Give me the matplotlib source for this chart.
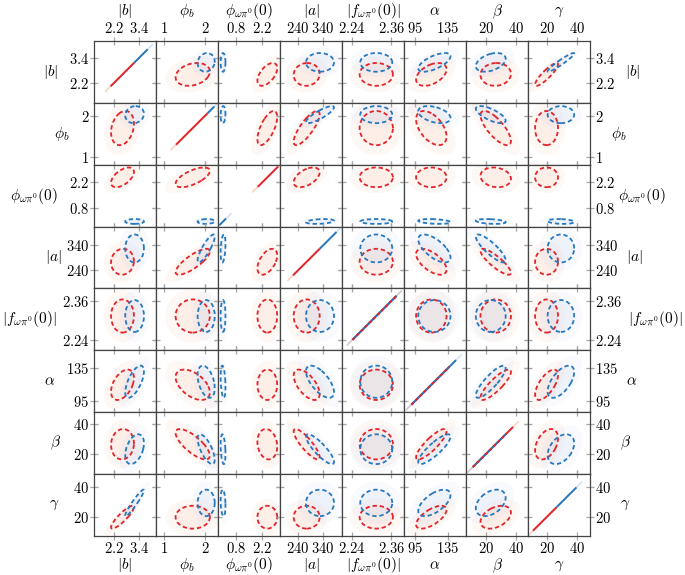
import numpy as np
import matplotlib
matplotlib.use("Agg")
import matplotlib.pyplot as plt
from matplotlib.patches import Ellipse

#===============================================================================
# parameters
names = [r"$|b|$", r"$\phi_b$", r"$\phi_{\omega\pi^0}(0)$", r"$|a|$",
         r"$|f_{\omega\pi^0}(0)|$", r"$\alpha$", r"$\beta$", r"$\gamma$"]
ticks = [[2.2, 3.4], [1, 2], [0.8, 2.2], [240, 340],
         [2.24, 2.36], [95, 135], [20, 40], [20, 40]]
lims = [(1.24, 4.22), (0.80, 2.32), (-0.17, 3.15), (168, 416),
        (2.209, 2.399), (82.2, 157.1), (6.6, 47.7), (7.3, 48.4)]

red_mean = [2.61, 1.70, 2.47, 274.6, 2.314, 115.2, 26.3, 19.6]
red_half = [0.55, 0.42, 0.53, 52.0, 0.051, 18.4, 10.1, 7.6]
blue_mean = [3.19, 2.03, 0.10, 328.0, 2.314, 118.9, 23.0, 29.1]
blue_half = [0.45, 0.21, 0.13, 56.0, 0.049, 19.5, 9.9, 8.8]

# correlations, upper triangle (i, j) -> rho
red_rho = {
    (0, 1): 0.25, (0, 2): 0.55, (0, 3): 0.05, (0, 4): 0.0, (0, 5): 0.45, (0, 6): 0.05, (0, 7): 0.88,
    (1, 2): 0.65, (1, 3): 0.8, (1, 4): 0.0, (1, 5): -0.5, (1, 6): -0.75, (1, 7): 0.0,
    (2, 3): 0.5, (2, 4): 0.0, (2, 5): 0.0, (2, 6): -0.15, (2, 7): 0.0,
    (3, 4): 0.0, (3, 5): -0.6, (3, 6): -0.85, (3, 7): 0.0,
    (4, 5): 0.0, (4, 6): 0.0, (4, 7): 0.0,
    (5, 6): 0.85, (5, 7): 0.65,
    (6, 7): 0.4,
}
blue_rho = {
    (0, 1): 0.1, (0, 2): 0.0, (0, 3): 0.0, (0, 4): 0.0, (0, 5): 0.65, (0, 6): 0.4, (0, 7): 0.95,
    (1, 2): 0.1, (1, 3): 0.85, (1, 4): 0.0, (1, 5): -0.4, (1, 6): -0.7, (1, 7): 0.0,
    (2, 3): 0.3, (2, 4): 0.0, (2, 5): -0.3, (2, 6): -0.3, (2, 7): -0.2,
    (3, 4): 0.0, (3, 5): -0.65, (3, 6): -0.85, (3, 7): 0.0,
    (4, 5): 0.0, (4, 6): 0.0, (4, 7): 0.0,
    (5, 6): 0.85, (5, 7): 0.6,
    (6, 7): 0.4,
}

# extent of the sample lines on the diagonal
diag_red = [(2.04, 3.18), (1.29, 2.06), (1.96, 3.05), (220, 327),
            (2.241, 2.376), (91.2, 136.9), (11.1, 37.8), (10.6, 26.2)]
diag_blue = [(3.18, 3.82), (2.06, 2.23), (-0.10, 0.26), (327, 394),
             (2.241, 2.376), (91.2, 145.1), (11.1, 33.3), (26.2, 39.4)]

RED = "#e3242b"
BLUE = "#2878bd"
RED_LIGHT = "#f6a98c"
BLUE_LIGHT = "#a9c4ee"

# label positions (pixels)
left_x = [51, 62, 34, 53, 29, 50, 55, 54]
right_x = [633, 619, 642, 634, 655, 632, 625, 625]

plt.rcParams["mathtext.fontset"] = "cm"
plt.rcParams["font.family"] = "serif"

#===============================================================================
def get_rho(table, i, j):
    return table[(min(i, j), max(i, j))]

def draw_ellipse(ax, mx, my, hx, hy, rho, scale = 1.0, **kw):
    cov = np.array([[hx * hx, rho * hx * hy], [rho * hx * hy, hy * hy]])
    vals, vecs = np.linalg.eigh(cov)
    angle = np.degrees(np.arctan2(vecs[1, 1], vecs[0, 1]))
    e = Ellipse((mx, my), 2 * scale * np.sqrt(vals[1]), 2 * scale * np.sqrt(vals[0]),
                angle = angle, **kw)
    ax.add_patch(e)

def draw_diag(ax, k):
    lo, hi = lims[k]
    pad = 0.08 * (hi - lo)
    rl, rh = diag_red[k]
    bl, bh = diag_blue[k]
    ax.plot([rl - pad, rh + pad], [rl - pad, rh + pad], color = RED_LIGHT, lw = 1.2, alpha = 0.5, zorder = 1)
    ax.plot([bl - pad, bh + pad], [bl - pad, bh + pad], color = BLUE_LIGHT, lw = 1.2, alpha = 0.5, zorder = 1)
    ax.plot([rl, rh], [rl, rh], color = RED, lw = 1.4, zorder = 2, solid_capstyle = "butt")
    ax.plot([bl, bh], [bl, bh], color = BLUE, lw = 1.4, zorder = 3, solid_capstyle = "butt")
    ol, oh = max(rl, bl), min(rh, bh)
    if oh > ol:
        ax.plot([ol, oh], [ol, oh], color = RED, lw = 1.4, zorder = 4,
                linestyle = (0, (1.5, 1.5)), solid_capstyle = "butt")

#===============================================================================
fig, axes = plt.subplots(8, 8, figsize = (6.85, 5.75), dpi = 100)
fig.subplots_adjust(left = 94 / 685, right = 590 / 685, top = 1 - 41 / 575,
                    bottom = 1 - 535.7 / 575, wspace = 0, hspace = 0)

n = len(names)
for i in range(n):
    for j in range(n):
        ax = axes[i, j]
        if i == j:
            draw_diag(ax, i)
        else:
            for mean, half, rho_t, light, col, z in [
                    (red_mean, red_half, red_rho, RED_LIGHT, RED, 3),
                    (blue_mean, blue_half, blue_rho, BLUE_LIGHT, BLUE, 4)]:
                rho = get_rho(rho_t, i, j)
                args = (mean[j], mean[i], half[j], half[i], rho)
                draw_ellipse(ax, *args, scale = 1.6, facecolor = light, edgecolor = "none", alpha = 0.08, zorder = 1)
                draw_ellipse(ax, *args, scale = 1.0, facecolor = light, edgecolor = "none", alpha = 0.12, zorder = 1)
                draw_ellipse(ax, *args, scale = 1.0, facecolor = "none", edgecolor = col,
                             lw = 1.3, linestyle = (0, (2.4, 1.6)), zorder = z)

        ax.set_xlim(lims[j])
        ax.set_ylim(lims[i])
        ax.set_xticks(ticks[j], labels = [f"${t:g}$" for t in ticks[j]])
        ax.set_yticks(ticks[i], labels = [f"${t:g}$" for t in ticks[i]])
        ax.tick_params(direction = "inout", length = 6, width = 0.9, color = "#a5a5a5",
                       top = True, bottom = True, left = True, right = True,
                       labeltop = (i == 0), labelbottom = (i == n - 1),
                       labelleft = (j == 0), labelright = (j == n - 1),
                       labelsize = 10.5, pad = 0.5)
        for sp in ax.spines.values():
            sp.set_color("#444444")
            sp.set_linewidth(0.9)

        if i == 0:
            ax.text(0.5, 1.48, names[j], transform = ax.transAxes, ha = "center", va = "center", fontsize = 11)
        if i == n - 1:
            ax.text(0.5, -0.48, names[j], transform = ax.transAxes, ha = "center", va = "center", fontsize = 11)
        if j == 0:
            ax.text((left_x[i] - 94) / 62, 0.5, names[i], transform = ax.transAxes, ha = "center", va = "center", fontsize = 11)
        if j == n - 1:
            ax.text(1 + (right_x[i] - 590) / 62, 0.5, names[i], transform = ax.transAxes, ha = "center", va = "center", fontsize = 11)

fig.savefig("out.png", dpi = 100)
